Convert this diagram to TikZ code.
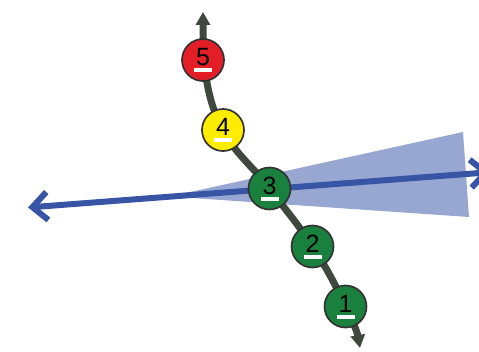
\documentclass[tikz,border=0pt]{standalone}
\usepackage{fontspec}
\setmainfont{Liberation Sans}
\usetikzlibrary{arrows.meta,backgrounds}
\definecolor{stopred}{RGB}{228,30,38}
\definecolor{stopyellow}{RGB}{255,237,0}
\definecolor{stopgreen}{RGB}{26,128,62}
\definecolor{spinegray}{RGB}{62,72,60}
\definecolor{trackblue}{RGB}{55,84,165}
\definecolor{wedgeblue}{RGB}{152,166,210}
\tikzset{
  stopnode/.style={circle, draw=black!80, line width=1.7pt, fill=#1,
    minimum size=42pt, inner sep=0pt, font=\fontsize{25}{25}\selectfont,
    path picture={\fill[white] ([xshift=-9pt,yshift=-12.5pt]path picture bounding box.center) rectangle ++(18pt,4pt);}},
  spine/.style={line width=7pt, spinegray,
    {Triangle[length=13pt,width=14pt]}-{Triangle[length=13pt,width=14pt]}},
  trackline/.style={line width=6pt, trackblue,
    {Straight Barb[length=15pt,width=28pt]}-{Straight Barb[length=15pt,width=28pt]}}
}
\begin{document}
\begin{tikzpicture}[x=1pt,y=1pt]
        \useasboundingbox (0,0) rectangle (479,351);
        \clip (0,0) rectangle (479,351);

        % 站点
        \node[stopnode=stopred]    (n5) at (203,291)     {\raisebox{6pt}{5}};
        \node[stopnode=stopyellow] (n4) at (223,221)     {\raisebox{6pt}{4}};
        \node[stopnode=stopgreen]  (n3) at (269.5,162.5) {\raisebox{6pt}{3}};
        \node[stopnode=stopgreen]  (n2) at (312.5,104.5) {\raisebox{6pt}{2}};
        \node[stopnode=stopgreen]  (n1) at (345.5,44.5)  {\raisebox{6pt}{1}};

        % 端点
        \coordinate (top) at (203,339);
        \coordinate (bot) at (360,3);
        \coordinate (bl) at (28,143.5);
        \coordinate (br) at (490,178.8);
        \coordinate (apex) at (170,154.5);
        \coordinate (wtop) at (463,219);
        \coordinate (wbot) at (469,134);

        \begin{scope}[on background layer]
            % 扇形
            \fill[wedgeblue] (apex) -- (wtop) -- (wbot) -- cycle;
            % 蓝线
            \draw[trackline] (bl) -- (br);
            % 路线
            \draw[spine] (top) -- (n5.center) to[out=-80,in=118] (n4.center)
                to[out=-62,in=127] (n3.center) to[out=-53,in=123] (n2.center)
                to[out=-57,in=115] (n1.center) to[out=-65,in=100] (bot);
        \end{scope}
    \end{tikzpicture}
\end{document}
